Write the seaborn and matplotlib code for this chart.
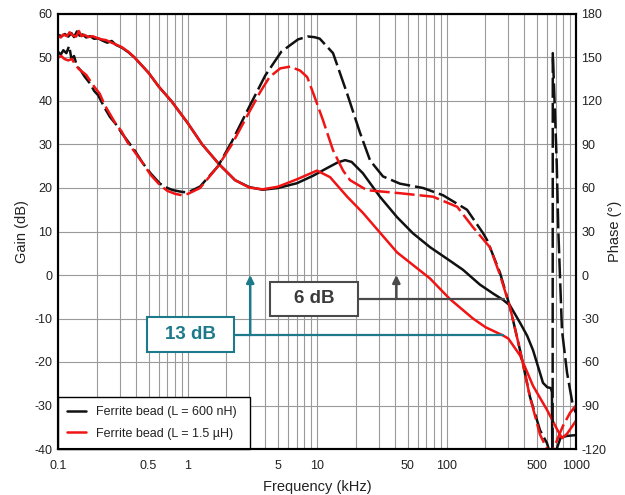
import numpy as np
import pandas as pd
import matplotlib
matplotlib.use("Agg")
import matplotlib.pyplot as plt
import seaborn as sns
from matplotlib.lines import Line2D
from matplotlib.patches import Rectangle
from matplotlib.ticker import LogLocator, NullFormatter

# gain (dB), solid lines
black_gain_f = [0.1, 0.107, 0.113, 0.12, 0.127, 0.133, 0.14, 0.147, 0.155, 0.165,
                0.177, 0.19, 0.204, 0.22, 0.24, 0.26, 0.28, 0.31, 0.35, 0.39,
                0.5, 0.6, 0.75, 1.0, 1.3, 1.75, 2.33, 3.0, 3.8, 5.0,
                7.0, 9.3, 12.0, 14.5, 16.5, 18.5, 22.6, 30.6, 41.5, 55,
                74.6, 106, 134, 181, 230, 273, 309, 370, 420, 466,
                527, 556, 600, 640, 652, 656, 700, 760, 850, 1000]
black_gain = [55.2, 54.9, 55.4, 54.8, 55.6, 54.7, 56.0, 55.0, 55.3, 54.6,
              54.9, 54.3, 54.4, 53.9, 53.4, 53.8, 52.9, 52.3, 51.2, 50.0,
              46.5, 43.3, 40.0, 35.0, 30.0, 25.5, 21.8, 20.2, 19.6, 20.0,
              21.1, 22.8, 24.6, 25.9, 26.4, 26.0, 23.4, 18.0, 13.3, 9.6,
              6.4, 3.3, 1.2, -2.2, -4.3, -5.7, -7.0, -11.0, -14.0, -17.3,
              -22.5, -24.8, -25.8, -26.0, -27.0, -42.0, -40.5, -37.4, -37.0, -36.8]

red_gain_f = [0.1, 0.105, 0.11, 0.117, 0.123, 0.13, 0.138, 0.145, 0.152, 0.16,
              0.172, 0.185, 0.2, 0.215, 0.235, 0.255, 0.28, 0.31, 0.35, 0.39,
              0.5, 0.6, 0.75, 1.0, 1.3, 1.75, 2.33, 3.0, 3.8, 5.0,
              7.0, 10.0, 12.6, 17.1, 22.6, 41.5, 74.6, 106, 160, 200,
              273, 300, 370, 466, 597, 715, 780, 853, 1000]
red_gain = [55.0, 54.6, 55.3, 54.9, 55.8, 55.1, 54.8, 56.1, 54.9, 55.2,
            54.7, 54.9, 54.5, 54.2, 54.0, 53.5, 53.0, 52.4, 51.3, 50.0,
            46.5, 43.3, 40.0, 35.0, 30.0, 25.5, 21.8, 20.1, 19.7, 20.3,
            22.0, 24.0, 22.5, 18.0, 14.3, 5.2, -0.8, -5.5, -10.0, -12.0,
            -13.9, -14.6, -18.5, -25.5, -31.0, -35.5, -37.5, -36.5, -33.5]

# phase (deg), dashed lines
black_phase_f = [0.1, 0.105, 0.11, 0.116, 0.122, 0.127, 0.133, 0.14, 0.15, 0.16,
                 0.177, 0.19, 0.204, 0.23, 0.252, 0.28, 0.31, 0.341, 0.39, 0.453,
                 0.52, 0.613, 0.7, 0.773, 0.907, 1.01, 1.25, 1.72, 2.2, 2.94,
                 3.98, 5.3, 7.14, 8.5, 9.6, 10.5, 13.3, 17.1, 21.5, 25.7,
                 32.3, 43.7, 65.9, 94, 144, 191, 206, 259, 309, 370,
                 441, 527, 597, 630, 660, 662, 688, 710, 730, 779,
                 853, 950, 1000]
black_phase = [154, 152, 155, 153, 158, 149, 151, 144, 141, 137,
               132, 127, 124, 115, 109, 104, 98, 93, 86, 77,
               70, 63, 60, 58.5, 57.3, 57, 61, 75, 92, 114.5,
               137.5, 154, 162.5, 164.5, 164, 163, 153, 125, 98, 79,
               68, 63, 60, 55, 45, 29, 24, 1.5, -22, -52,
               -84, -107, -116, -123, -123, 153, 112, 77, 31, -38,
               -67.5, -91, -95]

red_phase_f = [0.1, 0.106, 0.112, 0.12, 0.128, 0.136, 0.145, 0.155, 0.165, 0.177,
               0.19, 0.21, 0.23, 0.252, 0.28, 0.31, 0.341, 0.39, 0.453, 0.52,
               0.613, 0.7, 0.8, 0.907, 1.01, 1.25, 1.72, 2.2, 2.86, 3.63,
               4.3, 5.2, 6.2, 7.4, 8.4, 9.3, 11.1, 13.3, 15.9, 18,
               24.3, 43.7, 78.7, 121, 160, 217, 259, 309, 370, 441,
               527, 597, 610, 666, 720, 794, 900, 1000]
red_phase = [150, 151, 149, 148, 149, 145, 142, 140, 138, 134,
             130, 125, 117, 111, 104, 99, 92, 85, 77, 69,
             62, 58, 56, 55, 56, 60, 75, 90, 109, 126,
             136.5, 142.5, 143.7, 141, 136.5, 126, 107, 86, 72, 65.4,
             58.5, 56.4, 54, 47, 33, 19, 0, -22, -52, -84,
             -110, -120, -125, -121, -113, -104, -95, -90]

labels = ["Ferrite bead (L = 600 nH)", "Ferrite bead (L = 1.5 µH)"]
x_ticks = [0.1, 0.5, 1, 5, 10, 50, 100, 500, 1000]
x_ticklabels = ["0.1", "0.5", "1", "5", "10", "50", "100", "500", "1000"]

sns.set_theme(style="white")
plt.rcParams["font.family"] = ["Liberation Sans", "DejaVu Sans"]
plt.rcParams["axes.unicode_minus"] = False

BLACK = "#111111"
RED = "#f01414"
TEAL = "#1c7a8a"
GREY = "#4a4a4a"
DASH = (0, (8, 2))

fig = plt.figure(figsize=(6.25, 4.95), dpi=100)
ax = fig.add_axes([58 / 625, 1 - 449 / 495, 518 / 625, 435 / 495])
ax2 = ax.twinx()

#gain curves
sns.lineplot(x=black_gain_f, y=black_gain, ax=ax, color=BLACK, lw=1.8, sort=False, estimator=None, legend=False)
sns.lineplot(x=red_gain_f, y=red_gain, ax=ax, color=RED, lw=1.8, sort=False, estimator=None, legend=False)
#phase curves on the right axis
sns.lineplot(x=black_phase_f, y=black_phase, ax=ax2, color=BLACK, lw=1.8, linestyle=DASH, sort=False, estimator=None, legend=False)
sns.lineplot(x=red_phase_f, y=red_phase, ax=ax2, color=RED, lw=1.8, linestyle=DASH, sort=False, estimator=None, legend=False)

ax.set_xscale("log")
ax.set_xlim(0.1, 1000)
ax.set_ylim(-40, 60)
ax.set_yticks(range(-40, 61, 10))
ax2.set_ylim(-120, 180)
ax2.set_yticks(range(-120, 181, 30))

ax.set_xticks(x_ticks)
ax.set_xticklabels(x_ticklabels)
ax.xaxis.set_minor_locator(LogLocator(base=10, subs=np.arange(2, 10)))
ax.xaxis.set_minor_formatter(NullFormatter())
ax.grid(True, which="both", color="#9a9a9a", lw=0.8)
ax2.grid(False)

ax.tick_params(axis="both", which="both", length=0, labelsize=9, colors="#222222")
ax.tick_params(axis="x", pad=8)
ax.tick_params(axis="y", pad=4)
ax2.tick_params(axis="y", length=0, labelsize=9, colors="#222222", pad=4)

ax.set_xlabel("Frequency (kHz)", fontsize=10.5, color="#222222", labelpad=6)
ax.set_ylabel("Gain (dB)", fontsize=10.5, color="#222222", labelpad=4)
ax2.set_ylabel("Phase (°)", fontsize=10.5, color="#222222", labelpad=1)

for a in (ax, ax2):
    for s in a.spines.values():
        s.set_color("black")
        s.set_linewidth(1.5)

#annotation boxes and arrows
ax.add_patch(Rectangle((0.486, -17.7), 2.29 - 0.486, 8.0, facecolor="white", edgecolor=TEAL, lw=1.5, zorder=4))
ax.text(1.055, -13.7, "13 dB", color=TEAL, fontsize=13.5, fontweight="bold", ha="center", va="center", zorder=5)
ax.plot([2.29, 273], [-13.8, -13.8], color=TEAL, lw=1.6, zorder=3)
ax.annotate("", xy=(3.05, 0), xytext=(3.05, -13.8),
            arrowprops=dict(arrowstyle="-|>", color=TEAL, lw=1.8, mutation_scale=11, shrinkA=0, shrinkB=0), zorder=3)

ax.add_patch(Rectangle((4.34, -9.4), 20.7 - 4.34, 7.8, facecolor="white", edgecolor=GREY, lw=1.5, zorder=4))
ax.text(9.48, -5.5, "6 dB", color="#3a3a3a", fontsize=13.5, fontweight="bold", ha="center", va="center", zorder=5)
ax.plot([20.7, 280], [-5.5, -5.5], color=GREY, lw=1.6, zorder=3)
ax.annotate("", xy=(41, 0), xytext=(41, -5.5),
            arrowprops=dict(arrowstyle="-|>", color=GREY, lw=1.8, mutation_scale=11, shrinkA=0, shrinkB=0), zorder=3)

handles = [Line2D([], [], color=BLACK, lw=1.8), Line2D([], [], color=RED, lw=1.8)]
leg = ax.legend(handles, labels, loc="lower left", bbox_to_anchor=(0, 0, 192 / 518, 1), mode="expand",
                borderaxespad=0, fancybox=False, edgecolor="black", framealpha=1, fontsize=9,
                handlelength=1.5, handletextpad=0.8, labelspacing=0.75, borderpad=0.75)
leg.get_frame().set_linewidth(1.0)
for t in leg.get_texts():
    t.set_color("#222222")
leg.set_zorder(10)

fig.savefig("out.png", dpi=100)
